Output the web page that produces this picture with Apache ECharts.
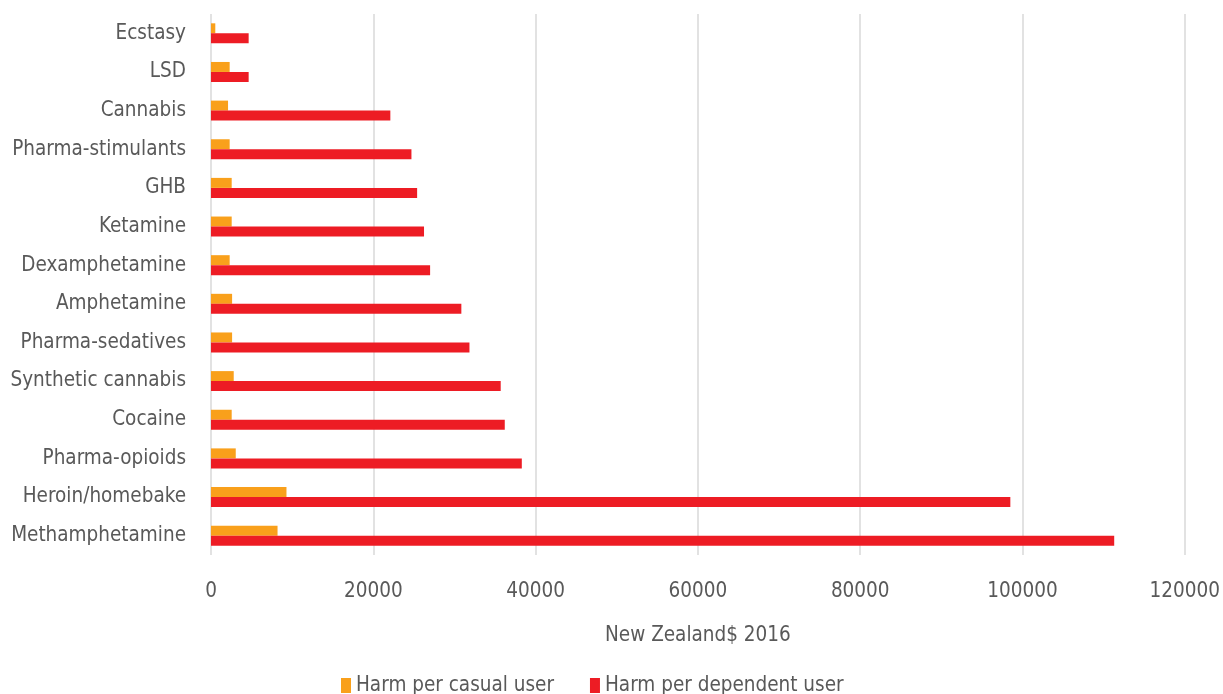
<!DOCTYPE html>
<html><head><meta charset="utf-8">
<script src="https://cdn.jsdelivr.net/npm/echarts@6/dist/echarts.min.js"></script>
<style>html,body{margin:0;padding:0;background:#fff}#c{width:1223px;height:694px}</style>
</head><body><div id="c"></div>
<script>
const categories = ["Ecstasy","LSD","Cannabis","Pharma-stimulants","GHB","Ketamine","Dexamphetamine","Amphetamine","Pharma-sedatives","Synthetic cannabis","Cocaine","Pharma-opioids","Heroin/homebake","Methamphetamine"];
const casualUser = [530,2300,2100,2300,2550,2550,2300,2600,2600,2800,2550,3050,9300,8200];
const dependentUser = [4640,4640,22100,24700,25400,26250,27000,30850,31850,35700,36200,38300,98500,111300];
const seriesNames = ["Harm per casual user","Harm per dependent user"];
const axisTitle = "New Zealand$ 2016";
const FONT = "'Liberation Sans Narrow','DejaVu Sans Condensed','Roboto Condensed',sans-serif";
const chart = echarts.init(document.getElementById('c'));
chart.setOption({
  animation:false,
  textStyle:{fontFamily:FONT},
  grid:{left:211,right:38,top:14,bottom:139,containLabel:false},
  legend:{top:670,left:336,itemWidth:10,itemHeight:15,itemGap:36,icon:'rect',
    textStyle:{fontFamily:FONT,fontSize:20.5,color:'#595959'},data:seriesNames},
  xAxis:{type:'value',min:0,max:120000,interval:20000,
    axisLine:{show:false},axisTick:{show:false},
    splitLine:{lineStyle:{color:'#d9d9d9',width:1.5}},
    axisLabel:{fontFamily:FONT,fontSize:20.5,color:'#595959',margin:26,formatter:v=>String(v)},
    name:axisTitle,nameLocation:'middle',nameGap:70,
    nameTextStyle:{fontFamily:FONT,fontSize:20.5,color:'#595959'}},
  yAxis:{type:'category',data:categories,inverse:true,
    axisLine:{show:false},axisTick:{show:false},
    axisLabel:{fontFamily:FONT,fontSize:20.5,color:'#595959',margin:25}},
  series:[
    {name:seriesNames[0],type:'bar',data:casualUser,itemStyle:{color:'#F9A01B'},barWidth:10,barGap:'0%'},
    {name:seriesNames[1],type:'bar',data:dependentUser,itemStyle:{color:'#ED1C24'},barWidth:10,barGap:'0%'}
  ]
});
</script></body></html>
